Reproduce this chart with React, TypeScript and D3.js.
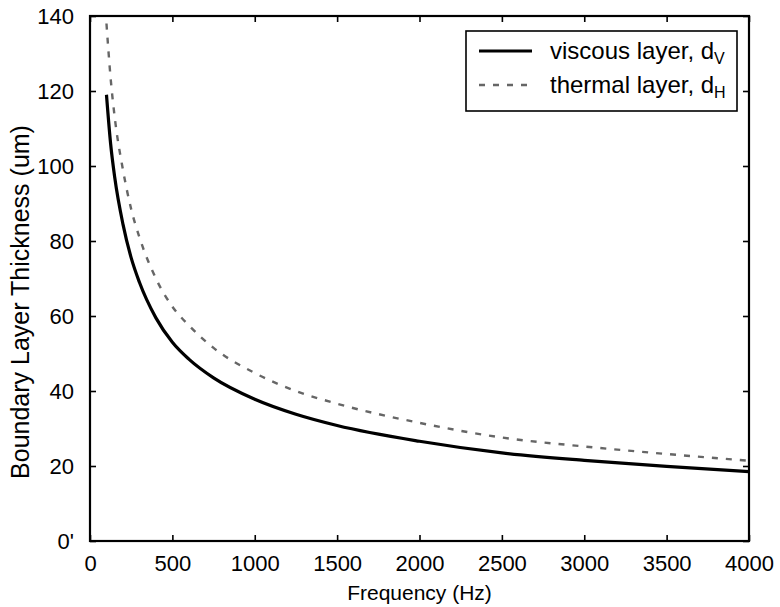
import React, { useEffect, useRef } from "react";
import * as d3 from "d3";

// frequency samples (Hz)
const frequencies = [100, 125, 150, 200, 250, 300, 400, 500, 600, 750, 1000, 1250, 1500, 2000, 2500, 3000, 3500, 4000];
// viscous boundary layer thickness (um)
const viscous = [119, 106, 97, 84.5, 75.5, 69, 59.5, 53, 48.5, 43.5, 37.8, 33.8, 30.8, 26.6, 23.5, 21.5, 19.9, 18.5];
// thermal boundary layer thickness (um)
const thermal = [138, 123.5, 113, 99, 88.5, 81, 70, 62.5, 57.5, 51.5, 44.8, 40, 36.6, 31.5, 27.6, 25.2, 23.2, 21.4];

const xTicks = [0, 500, 1000, 1500, 2000, 2500, 3000, 3500, 4000];
const yTicks = [0, 20, 40, 60, 80, 100, 120, 140];
const yTickLabels = ["0'", "20", "40", "60", "80", "100", "120", "140"];

const W = 780;
const H = 607;
const margin = { top: 16, right: 31, bottom: 66, left: 90 };
const FONT = "'Liberation Sans', Arial, Helvetica, sans-serif";

function App() {
  const ref = useRef<SVGSVGElement>(null);

  useEffect(() => {
    const svg = d3.select(ref.current);
    svg.selectAll("*").remove();

    const x = d3.scaleLinear().domain([0, 4000]).range([margin.left, W - margin.right]);
    const y = d3.scaleLinear().domain([0, 140]).range([H - margin.bottom, margin.top]);

    const rows = frequencies.map((f, i) => ({ f, v: viscous[i], t: thermal[i] }));

    const line = (key: "v" | "t") =>
      d3
        .line<{ f: number; v: number; t: number }>()
        .x((d) => x(d.f))
        .y((d) => y(d[key]))
        .curve(d3.curveMonotoneX);

    // curves
    svg
      .append("path")
      .datum(rows)
      .attr("d", line("t"))
      .attr("fill", "none")
      .attr("stroke", "#666")
      .attr("stroke-width", 2.4)
      .attr("stroke-dasharray", "6,8");

    svg
      .append("path")
      .datum(rows)
      .attr("d", line("v"))
      .attr("fill", "none")
      .attr("stroke", "#000")
      .attr("stroke-width", 3.2);

    // axes (ticks pointing inward on all four sides)
    const x0 = margin.left;
    const x1 = W - margin.right;
    const y0 = H - margin.bottom;
    const y1 = margin.top;

    const bottom = svg
      .append("g")
      .attr("transform", `translate(0,${y0})`)
      .call(
        d3
          .axisBottom(x)
          .tickValues(xTicks)
          .tickSizeInner(-6)
          .tickSizeOuter(0)
          .tickPadding(14)
          .tickFormat(d3.format("d"))
      );
    const top = svg
      .append("g")
      .attr("transform", `translate(0,${y1})`)
      .call(d3.axisTop(x).tickValues(xTicks).tickSizeInner(-6).tickSizeOuter(0).tickFormat(() => ""));
    const left = svg
      .append("g")
      .attr("transform", `translate(${x0},0)`)
      .call(
        d3
          .axisLeft(y)
          .tickValues(yTicks)
          .tickSizeInner(-6)
          .tickSizeOuter(0)
          .tickPadding(16)
          .tickFormat((d, i) => yTickLabels[i])
      );
    const right = svg
      .append("g")
      .attr("transform", `translate(${x1},0)`)
      .call(d3.axisRight(y).tickValues(yTicks).tickSizeInner(-6).tickSizeOuter(0).tickFormat(() => ""));

    [bottom, top, left, right].forEach((g) => {
      g.select(".domain").remove();
      g.selectAll(".tick line").attr("stroke", "#000").attr("stroke-width", 1.6);
      g.selectAll(".tick text")
        .attr("font-family", FONT)
        .attr("font-size", 22)
        .attr("fill", "#000");
    });

    // frame
    svg
      .append("rect")
      .attr("x", x0)
      .attr("y", y1)
      .attr("width", x1 - x0)
      .attr("height", y0 - y1)
      .attr("fill", "none")
      .attr("stroke", "#000")
      .attr("stroke-width", 2.2);

    // axis titles
    svg
      .append("text")
      .attr("x", (x0 + x1) / 2)
      .attr("y", 600)
      .attr("text-anchor", "middle")
      .attr("font-family", FONT)
      .attr("font-size", 21)
      .text("Frequency (Hz)");

    svg
      .append("text")
      .attr("transform", `translate(29,302) rotate(-90)`)
      .attr("text-anchor", "middle")
      .attr("font-family", FONT)
      .attr("font-size", 25)
      .text("Boundary Layer Thickness (um)");

    // legend
    const lg = svg.append("g").attr("transform", "translate(466,31)");
    lg.append("rect")
      .attr("width", 271)
      .attr("height", 80)
      .attr("fill", "#fff")
      .attr("stroke", "#000")
      .attr("stroke-width", 1.6);

    const items = [
      { name: "viscous layer, d", sub: "V", color: "#000", width: 3.2, dash: null as string | null },
      { name: "thermal layer, d", sub: "H", color: "#666", width: 2.4, dash: "6,8" },
    ];
    items.forEach((it, i) => {
      const cy = 20 + i * 34;
      lg.append("line")
        .attr("x1", 13)
        .attr("x2", 66)
        .attr("y1", cy)
        .attr("y2", cy)
        .attr("stroke", it.color)
        .attr("stroke-width", it.width)
        .attr("stroke-dasharray", it.dash);
      const t = lg
        .append("text")
        .attr("x", 84)
        .attr("y", cy + 8)
        .attr("font-family", FONT)
        .attr("font-size", 24)
        .text(it.name);
      t.append("tspan").attr("font-size", 16).attr("dy", 5).text(it.sub);
    });
  }, []);

  return (
    <div style={{ position: "absolute", left: 0, top: 0 }}>
      <svg ref={ref} width={W} height={H} style={{ display: "block", background: "#fff" }} />
    </div>
  );
}

export default App;
